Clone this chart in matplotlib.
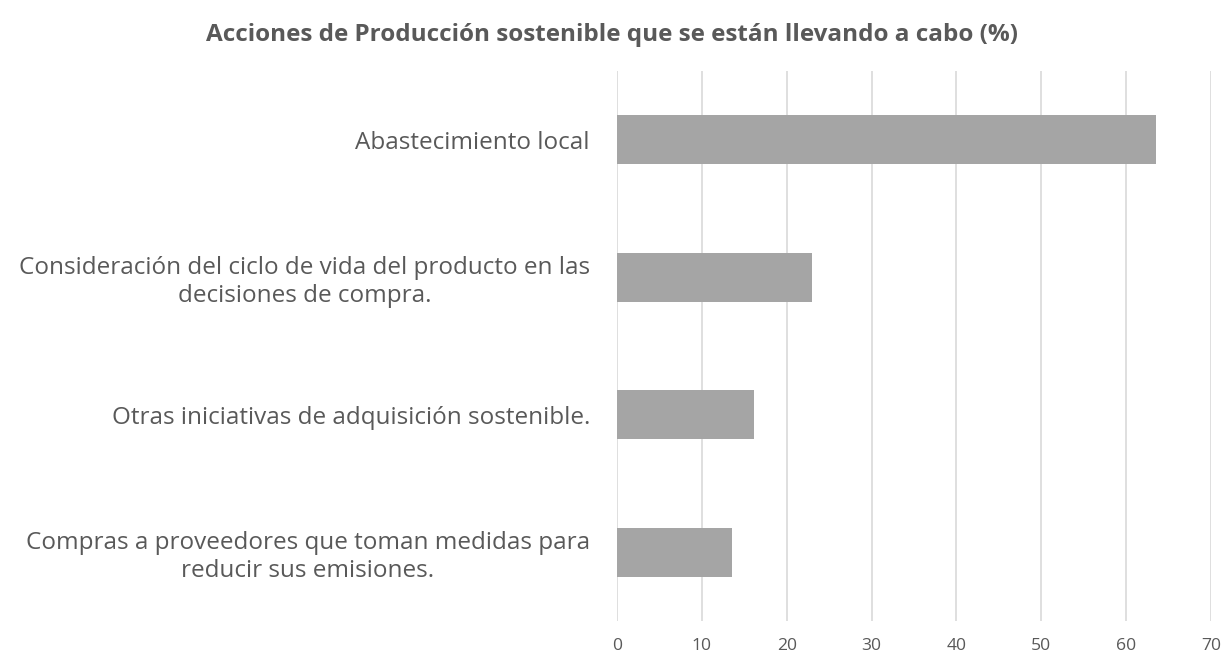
import matplotlib
matplotlib.use("Agg")
import matplotlib.pyplot as plt

categories = [
    "Abastecimiento local",
    "Consideración del ciclo de vida del producto en las\ndecisiones de compra.",
    "Otras iniciativas de adquisición sostenible.",
    "Compras a proveedores que toman medidas para\nreducir sus emisiones.",
]
values = [63.5, 23.0, 16.1, 13.5]
xticks = [0, 10, 20, 30, 40, 50, 60, 70]
title = "Acciones de Producción sostenible que se están llevando a cabo (%)"

plt.rcParams["font.family"] = ["Open Sans", "DejaVu Sans"]
text_color = "#595959"

fig = plt.figure(figsize=(12.23, 6.58), dpi=100)
ax = fig.add_axes([617 / 1223, 1 - 621 / 658, (1211 - 617) / 1223, (621 - 71) / 658])

ypos = list(range(len(categories)))
ax.barh(ypos, values, height=0.356, color="#A5A5A5", zorder=3)
ax.set_ylim(len(categories) - 0.5, -0.5)
ax.set_xlim(0, 70)
ax.set_xticks(xticks)
ax.set_xticklabels([str(t) for t in xticks])
ax.set_yticks(ypos)
ax.set_yticklabels(categories, multialignment="center")

ax.grid(axis="x", color="#D9D9D9", linewidth=1.2, zorder=0)
for s in ax.spines.values():
    s.set_visible(False)
ax.tick_params(axis="both", length=0, colors=text_color)
ax.tick_params(axis="y", pad=19.5, labelsize=17.5)
ax.tick_params(axis="x", pad=12, labelsize=12.6)

fig.text(612 / 1223, 1 - 35 / 658, title, ha="center", va="center",
         fontsize=17.5, fontweight="bold", color=text_color)

fig.savefig("out.png", dpi=100)
